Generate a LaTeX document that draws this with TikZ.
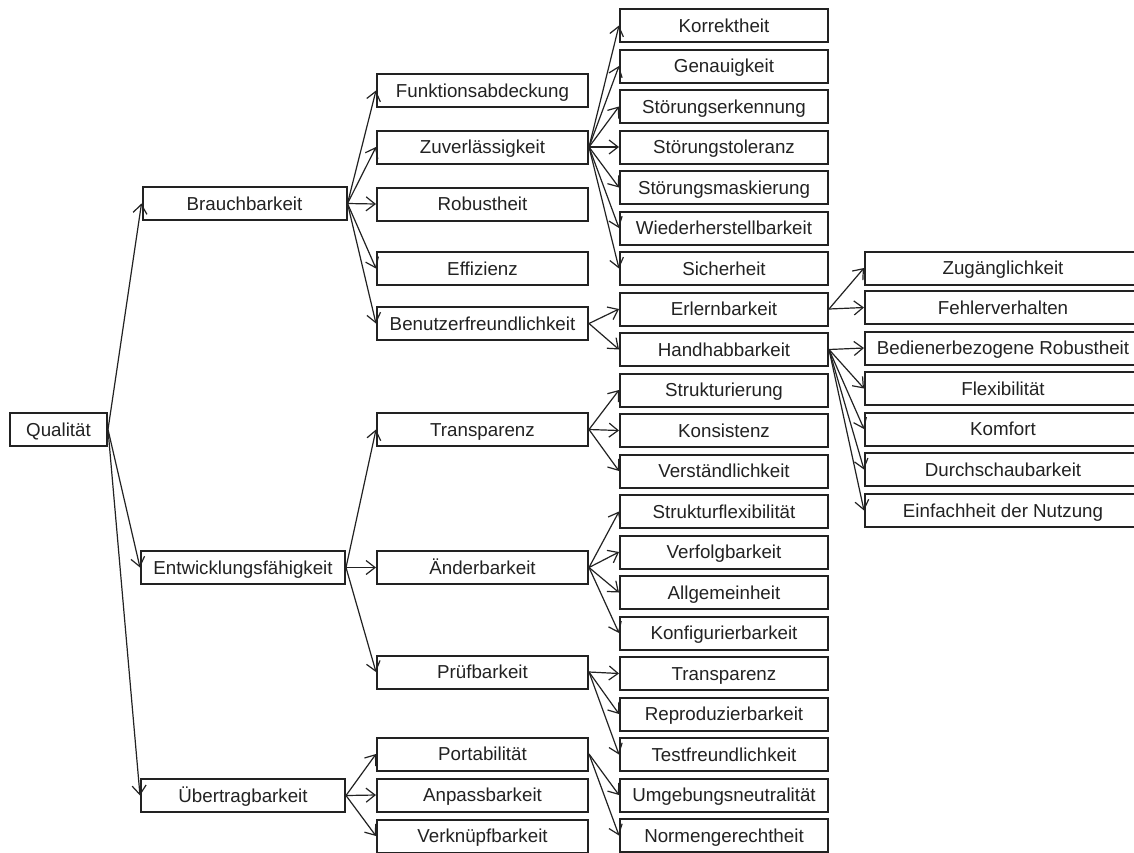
\documentclass[tikz,border=0pt]{standalone}
\usepackage{fontspec}
\setmainfont{Liberation Sans}
\usetikzlibrary{arrows.meta}
\definecolor{ink}{HTML}{222222}
\begin{document}
\begin{tikzpicture}[x=1pt,y=-1pt,
  font=\fontsize{18.75}{21}\selectfont,
  box/.style={draw=ink,line width=2pt,text=ink,minimum height=33pt,inner sep=0pt,
    text height=13.5pt,text depth=0.5pt},
  lvone/.style={box,minimum width=204pt},
  lvtwo/.style={box,minimum width=211pt},
  lvthree/.style={box,minimum width=208pt},
  lvfour/.style={box,minimum width=276pt},
  link/.style={draw=ink,line width=1.2pt,-{Straight Barb[length=9pt,width=14pt]}}]
\useasboundingbox[fill=white] (0,0) rectangle (1134,852);

% root
\node[box,minimum width=97pt] (q) at (58.5,429.5) {Qualität};

% first level
\node[lvone] (brauch) at (244.5,203.5) {Brauchbarkeit};
\node[lvone] (entw)   at (243,567.5) {Entwicklungsfähigkeit};
\node[lvone] (ueber)  at (243,795.5) {Übertragbarkeit};

% second level
\node[lvtwo] (funk)   at (482.5,90.5)  {Funktionsabdeckung};
\node[lvtwo] (zuver)  at (482.5,147)   {Zuverlässigkeit};
\node[lvtwo] (robust) at (482.5,204)   {Robustheit};
\node[lvtwo] (effiz)  at (482.5,268.5) {Effizienz};
\node[lvtwo] (benutz) at (482.5,323.5) {Benutzerfreundlichkeit};
\node[lvtwo] (transp) at (482.5,429.5) {Transparenz};
\node[lvtwo] (aender) at (482.5,567.5) {Änderbarkeit};
\node[lvtwo] (pruef)  at (482.5,672)   {Prüfbarkeit};
\node[lvtwo] (port)   at (482.5,754)   {Portabilität};
\node[lvtwo] (anpass) at (482.5,795)   {Anpassbarkeit};
\node[lvtwo] (verkn)  at (482.5,836)   {Verknüpfbarkeit};

% third level
\node[lvthree] (korr)   at (724,25.5)  {Korrektheit};
\node[lvthree] (genau)  at (724,66)    {Genauigkeit};
\node[lvthree] (sterk)  at (724,106.5) {Störungserkennung};
\node[lvthree] (sttol)  at (724,147)   {Störungstoleranz};
\node[lvthree] (stmask) at (724,187.5) {Störungsmaskierung};
\node[lvthree] (wieder) at (724,228)   {Wiederherstellbarkeit};
\node[lvthree] (sicher) at (724,268.5) {Sicherheit};
\node[lvthree] (erlern) at (724,309)   {Erlernbarkeit};
\node[lvthree] (handh)  at (724,349.5) {Handhabbarkeit};
\node[lvthree] (strukt) at (724,390)   {Strukturierung};
\node[lvthree] (konsis) at (724,430.5) {Konsistenz};
\node[lvthree] (verst)  at (724,471)   {Verständlichkeit};
\node[lvthree] (sflex)  at (724,511.5) {Strukturflexibilität};
\node[lvthree] (verfol) at (724,552)   {Verfolgbarkeit};
\node[lvthree] (allg)   at (724,592.5) {Allgemeinheit};
\node[lvthree] (konf)   at (724,633)   {Konfigurierbarkeit};
\node[lvthree] (transb) at (724,673.5) {Transparenz};
\node[lvthree] (repro)  at (724,714)   {Reproduzierbarkeit};
\node[lvthree] (testf)  at (724,754.5) {Testfreundlichkeit};
\node[lvthree] (umgeb)  at (724,795)   {Umgebungsneutralität};
\node[lvthree] (normen) at (724,835.5) {Normengerechtheit};

% fourth level
\node[lvfour] (zugang) at (1003,268)  {Zugänglichkeit};
\node[lvfour] (fehler) at (1003,307.5){Fehlerverhalten};
\node[lvfour] (bedien) at (1003,348)  {Bedienerbezogene Robustheit};
\node[lvfour] (flex)   at (1003,388.5){Flexibilität};
\node[lvfour] (komf)   at (1003,429)  {Komfort};
\node[lvfour] (durch)  at (1003,469.5){Durchschaubarkeit};
\node[lvfour] (einf)   at (1003,510.5){Einfachheit der Nutzung};

% connectors
\foreach \t in {brauch,entw,ueber} \draw[link] (q.east) -- (\t.west);
\foreach \t in {funk,zuver,robust,effiz,benutz} \draw[link] (brauch.east) -- (\t.west);
\foreach \t in {korr,genau,sterk,sttol,stmask,wieder,sicher} \draw[link] (zuver.east) -- (\t.west);
\foreach \t in {erlern,handh} \draw[link] (benutz.east) -- (\t.west);
\foreach \t in {zugang,fehler} \draw[link] (erlern.east) -- (\t.west);
\foreach \t in {bedien,flex,komf,durch,einf} \draw[link] (handh.east) -- (\t.west);
\foreach \t in {transp,aender,pruef} \draw[link] (entw.east) -- (\t.west);
\foreach \t in {strukt,konsis,verst} \draw[link] (transp.east) -- (\t.west);
\foreach \t in {sflex,verfol,allg,konf} \draw[link] (aender.east) -- (\t.west);
\foreach \t in {transb,repro,testf} \draw[link] (pruef.east) -- (\t.west);
\foreach \t in {port,anpass,verkn} \draw[link] (ueber.east) -- (\t.west);
\foreach \t in {umgeb,normen} \draw[link] (port.east) -- (\t.west);
\end{tikzpicture}
\end{document}
